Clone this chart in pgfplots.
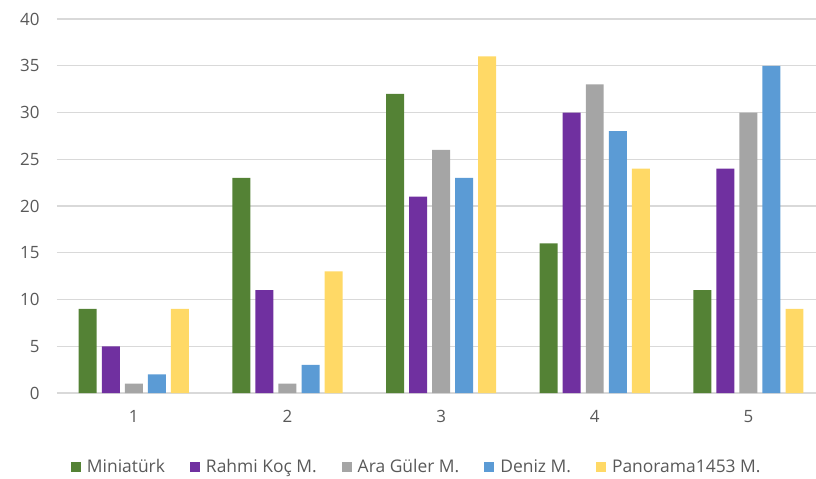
\documentclass[border=0pt]{standalone}
\usepackage{pgfplots}
\pgfplotsset{compat=1.18}
\usepackage{fontspec}
\setmainfont{Open Sans}
\definecolor{cgreen}{HTML}{548235}
\definecolor{cpurple}{HTML}{7030A0}
\definecolor{cgray}{HTML}{A5A5A5}
\definecolor{cblue}{HTML}{5B9BD5}
\definecolor{cyellow}{HTML}{FFD966}
\definecolor{gridgray}{HTML}{D9D9D9}
\definecolor{labelgray}{HTML}{595959}
\begin{document}
\begin{tikzpicture}
\begin{axis}[
  at={(0,0)}, anchor=south west,
  scale only axis, width=759bp, height=374bp,
  xmin=0.5, xmax=5.44, ymin=0, ymax=40,
  ybar, bar width=0.117,
  axis line style={draw=none},
  major tick length=0,
  /pgf/number format/assume math mode=true,
  xtick={1,2,3,4,5}, ytick={0,5,...,40},
  ymajorgrids, grid style={color=gridgray, line width=1.3bp},
  tick label style={font=\fontsize{17}{19}\selectfont, text=labelgray},
  yticklabel style={xshift=-14bp},
  xticklabel style={yshift=-14bp},
  legend columns=-1,
  legend style={draw=none, fill=none, at={(0.474,-0.198)}, anchor=center,
    font=\fontsize{17.5}{19}\selectfont, text=labelgray,
    /tikz/every odd column/.append style={column sep=4bp},
    /tikz/every even column/.append style={column sep=23bp}},
  legend image code/.code={\fill[#1] (0bp,-5bp) rectangle (10bp,5bp);},
]
\addplot[fill=cgreen, draw=none, bar shift=-0.3] coordinates {(1,9) (2,23) (3,32) (4,16) (5,11)};
\addplot[fill=cpurple, draw=none, bar shift=-0.15] coordinates {(1,5) (2,11) (3,21) (4,30) (5,24)};
\addplot[fill=cgray, draw=none, bar shift=0] coordinates {(1,1) (2,1) (3,26) (4,33) (5,30)};
\addplot[fill=cblue, draw=none, bar shift=0.15] coordinates {(1,2) (2,3) (3,23) (4,28) (5,35)};
\addplot[fill=cyellow, draw=none, bar shift=0.3] coordinates {(1,9) (2,13) (3,36) (4,24) (5,9)};
\legend{Miniatürk, Rahmi Koç M., Ara Güler M., Deniz M., Panorama1453 M.}
\end{axis}
\pgfresetboundingbox
\path[use as bounding box] (-57bp,-86bp) rectangle (759bp,393bp);
\end{tikzpicture}
\end{document}
